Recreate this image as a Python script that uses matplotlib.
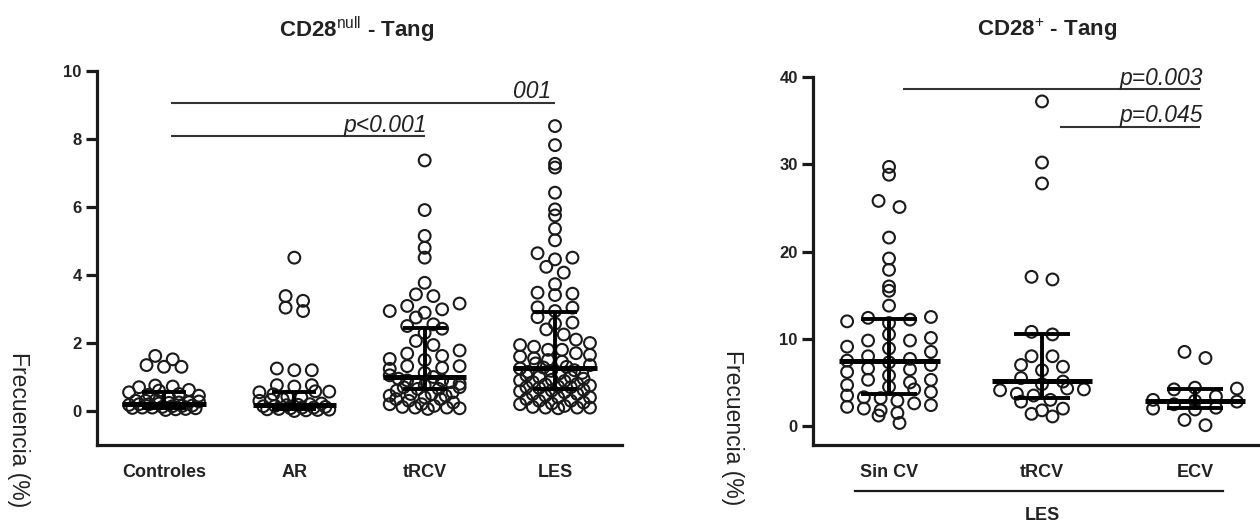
import numpy as np
import matplotlib
matplotlib.use('Agg')
import matplotlib.pyplot as plt
from math import gcd

plt.rcParams['font.family'] = ['Liberation Sans', 'DejaVu Sans']
plt.rcParams['mathtext.fontset'] = 'custom'
plt.rcParams['mathtext.rm'] = 'Liberation Sans'
plt.rcParams['mathtext.bf'] = 'Liberation Sans:bold'

# ---------------- datos: panel izquierdo (CD28null) ----------------
left_groups = ['Controles', 'AR', 'tRCV', 'LES']

controles = [1.62, 1.35, 1.30, 1.30, 1.52,
             0.62, 0.72, 0.75, 0.70, 0.60,
             0.45, 0.50, 0.42, 0.55, 0.48,
             0.30, 0.25, 0.22, 0.28, 0.32, 0.20, 0.20, 0.24, 0.26, 0.30,
             0.05, 0.08, 0.10, 0.12, 0.15, 0.18, 0.10, 0.06, 0.14, 0.16, 0.03, 0.09]
ar = [4.51, 3.38, 3.04, 2.94, 3.24,
      1.25, 1.20, 1.20,
      0.76, 0.76, 0.72,
      0.57, 0.58, 0.55, 0.49,
      0.40, 0.35, 0.30, 0.42, 0.33,
      0.20, 0.18, 0.15, 0.12, 0.10, 0.08, 0.05, 0.03, 0.02, 0.06, 0.14, 0.10,
      0.17, 0.22, 0.00, 0.04]
trcv_l = [7.37, 5.91, 5.15, 4.80, 4.51, 3.77, 3.43, 3.38, 3.16, 3.09, 2.99, 2.94,
          2.89, 2.75, 2.55, 2.50, 2.42, 2.30, 2.06, 1.94, 1.78, 1.69, 1.62, 1.53,
          1.50, 1.32, 1.32, 1.24, 1.27, 1.12,
          1.05, 1.00, 0.95, 0.90, 0.85, 0.80, 0.80, 0.75, 0.70, 0.65, 0.65, 0.60,
          0.55, 0.50, 0.50, 0.90, 0.70,
          0.45, 0.40, 0.35, 0.30, 0.25, 0.20, 0.15, 0.10, 0.10, 0.08, 0.06, 0.12,
          0.35, 0.20, 0.45]
les_l = [8.38, 7.82, 7.27, 7.16, 6.42, 5.93, 5.75, 5.36, 5.02, 4.64, 4.51, 4.46,
         4.24, 4.07, 3.73, 3.48, 3.41, 3.45, 3.04, 2.94, 3.05,
         2.76, 2.60, 2.57, 2.25, 1.94, 1.89, 1.80, 1.80, 1.55, 1.50, 1.45, 1.40,
         1.35, 1.30, 2.10, 2.00, 1.70, 1.65, 1.60, 2.40, 1.28,
         1.25, 1.20, 1.15, 1.10, 1.05, 1.00, 0.95, 0.90, 0.85, 0.80, 0.75, 0.70,
         0.70, 0.68, 1.18, 1.12, 1.00, 0.92, 0.88, 0.78, 0.72,
         0.60, 0.55, 0.50, 0.45, 0.40, 0.35, 0.30, 0.25, 0.22, 0.10, 0.10, 0.10,
         0.08, 0.15, 0.20, 0.30, 0.40, 0.50, 0.58, 0.62, 0.12]
left_data = [controles, ar, trcv_l, les_l]
left_median = [0.20, 0.18, 1.00, 1.27]
left_q1 = [0.08, 0.05, 0.65, 0.65]
left_q3 = [0.55, 0.57, 2.45, 2.92]

# ---------------- datos: panel derecho (CD28+) ----------------
right_groups = ['Sin CV', 'tRCV', 'ECV']
sin_cv = [29.7, 28.8, 25.8, 25.1, 21.6, 19.2, 17.9, 16.0, 15.5, 13.8, 12.4, 12.5,
          12.2, 12.0, 11.8, 10.5, 10.1, 9.8, 9.8, 9.1, 8.9, 8.5, 8.0, 7.7, 7.5,
          7.3, 7.0, 6.6, 6.5, 6.2, 5.8, 5.3, 5.3, 5.0, 4.7, 4.5, 4.2, 3.9,
          3.5, 3.3, 3.2, 2.9, 2.6, 2.4, 2.2, 2.0, 1.8, 1.5, 1.2, 0.35]
trcv_r = [37.2, 30.2, 27.8, 17.1, 16.8, 10.8,
          10.5, 8.0, 8.0, 7.0, 6.8, 6.4, 5.5,
          5.1, 4.8, 4.3, 4.2, 4.1, 3.7, 3.5,
          3.0, 2.8, 2.0, 1.8, 1.4, 1.1]
ecv = [8.5, 7.8, 4.4, 4.3, 4.2, 3.4, 3.0, 2.9, 2.8, 2.5, 2.1, 2.0, 1.9, 0.7, 0.1]
right_data = [sin_cv, trcv_r, ecv]
right_median = [7.4, 5.2, 2.9]
right_q1 = [3.7, 3.2, 2.1]
right_q3 = [12.3, 10.6, 4.25]

INK = '#1a1a1a'


def swarm(vals, row_h, step, max_cols=5):
    # filas tipo Prism; dentro de la fila se reparte en zigzag para no formar curvas
    vals = np.asarray(vals, dtype=float)
    offs = np.zeros(len(vals))
    rows = np.floor(vals / row_h)
    for r in np.unique(rows):
        idx = np.where(rows == r)[0]
        idx = idx[np.argsort(vals[idx], kind='stable')]
        n = len(idx)
        s = step if n <= max_cols else step * (max_cols - 1) / (n - 1)
        slots = (np.arange(n) - (n - 1) / 2) * s
        stride = 3
        while n > 2 and gcd(stride, n) != 1:
            stride += 1
        perm = [(k * stride + n // 2) % n for k in range(n)]
        offs[idx] = slots[perm]
    return offs


def dot_panel(ax, data, med, q1, q3, row_h, step, w_med, w_q):
    for i, vals in enumerate(data):
        x = i + swarm(vals, row_h, step)
        ax.scatter(x, vals, s=72, facecolors='none', edgecolors=INK,
                   linewidths=1.5, zorder=2)
        ax.hlines(med[i], i - w_med, i + w_med, color='black', lw=3.6, zorder=3)
        ax.hlines([q1[i], q3[i]], i - w_q, i + w_q, color='black', lw=2.8, zorder=3)
        ax.vlines(i, q1[i], q3[i], color='black', lw=2.8, zorder=3)


def style_axes(ax, labels):
    for side in ['top', 'right']:
        ax.spines[side].set_visible(False)
    for side in ['left', 'bottom']:
        ax.spines[side].set_linewidth(2.3)
        ax.spines[side].set_color(INK)
    ax.tick_params(axis='y', length=8, width=2.3, color=INK, pad=3,
                   labelsize=12, labelcolor='#222222')
    ax.tick_params(axis='x', length=0, pad=14, labelsize=13, labelcolor='#222222')
    ax.set_xticks(range(len(labels)))
    ax.set_xticklabels(labels, fontweight='bold')
    for t in ax.get_yticklabels():
        t.set_fontweight('bold')


fig = plt.figure(figsize=(12.6, 5.27), dpi=100)

# ---------------- panel izquierdo ----------------
ax1 = fig.add_axes([97 / 1260, 82 / 527, 525 / 1260, 374 / 527])
dot_panel(ax1, left_data, left_median, left_q1, left_q3,
          row_h=0.36, step=0.134, w_med=0.32, w_q=0.17)
ax1.set_ylim(-1.0, 10)
ax1.set_xlim(-0.514, 3.514)
ax1.set_yticks([0, 2, 4, 6, 8, 10])
style_axes(ax1, left_groups)

ax1.hlines(9.05, 0.05, 3.0, color='#333333', lw=1.5)
ax1.hlines(8.08, 0.05, 2.0, color='#333333', lw=1.5)
ax1.text(2.97, 9.22, '001', ha='right', va='baseline', fontsize=16.5,
         style='italic', color='#222222')
ax1.text(2.02, 8.22, 'p<0.001', ha='right', va='baseline', fontsize=16.5,
         style='italic', color='#222222')

# ---------------- panel derecho ----------------
ax2 = fig.add_axes([813 / 1260, 82 / 527, 447 / 1260, 368 / 527])
dot_panel(ax2, right_data, right_median, right_q1, right_q3,
          row_h=1.45, step=0.137, w_med=0.33, w_q=0.18)
ax2.set_ylim(-2.17, 40)
ax2.set_xlim(-0.497, 2.425)
ax2.set_yticks([0, 10, 20, 30, 40])
style_axes(ax2, right_groups)

ax2.hlines(38.6, 0.09, 2.03, color='#333333', lw=1.5)
ax2.hlines(34.3, 1.12, 2.03, color='#333333', lw=1.5)
ax2.text(2.05, 39.1, 'p=0.003', ha='right', va='baseline', fontsize=16.5,
         style='italic', color='#222222')
ax2.text(2.05, 34.8, 'p=0.045', ha='right', va='baseline', fontsize=16.5,
         style='italic', color='#222222')

# barra "LES" bajo el panel derecho
tr = ax2.get_xaxis_transform()
ax2.plot([-0.22, 2.18], [-0.125, -0.125], transform=tr, color=INK, lw=1.6,
         clip_on=False)
ax2.text(1.0, -0.192, 'LES', transform=tr, ha='center', va='center',
         fontsize=13, fontweight='bold', color='#222222')

# titulos y etiquetas del eje y
fig.text(357 / 1260, 1 - 30 / 527, r'CD28$^{\mathrm{null}}$ - Tang', ha='center',
         va='center', fontsize=16, fontweight='bold', color='#222222')
fig.text(1047 / 1260, 1 - 30 / 527, r'CD28$^{+}$ - Tang', ha='center',
         va='center', fontsize=16, fontweight='bold', color='#222222')
fig.text(18 / 1260, 1 - 430 / 527, 'Frecuencia (%)', rotation=-90, ha='center',
         va='center', fontsize=16.5, color='#222222')
fig.text(732 / 1260, 1 - 428 / 527, 'Frecuencia (%)', rotation=-90, ha='center',
         va='center', fontsize=16.5, color='#222222')

fig.savefig('out.png', dpi=100)
